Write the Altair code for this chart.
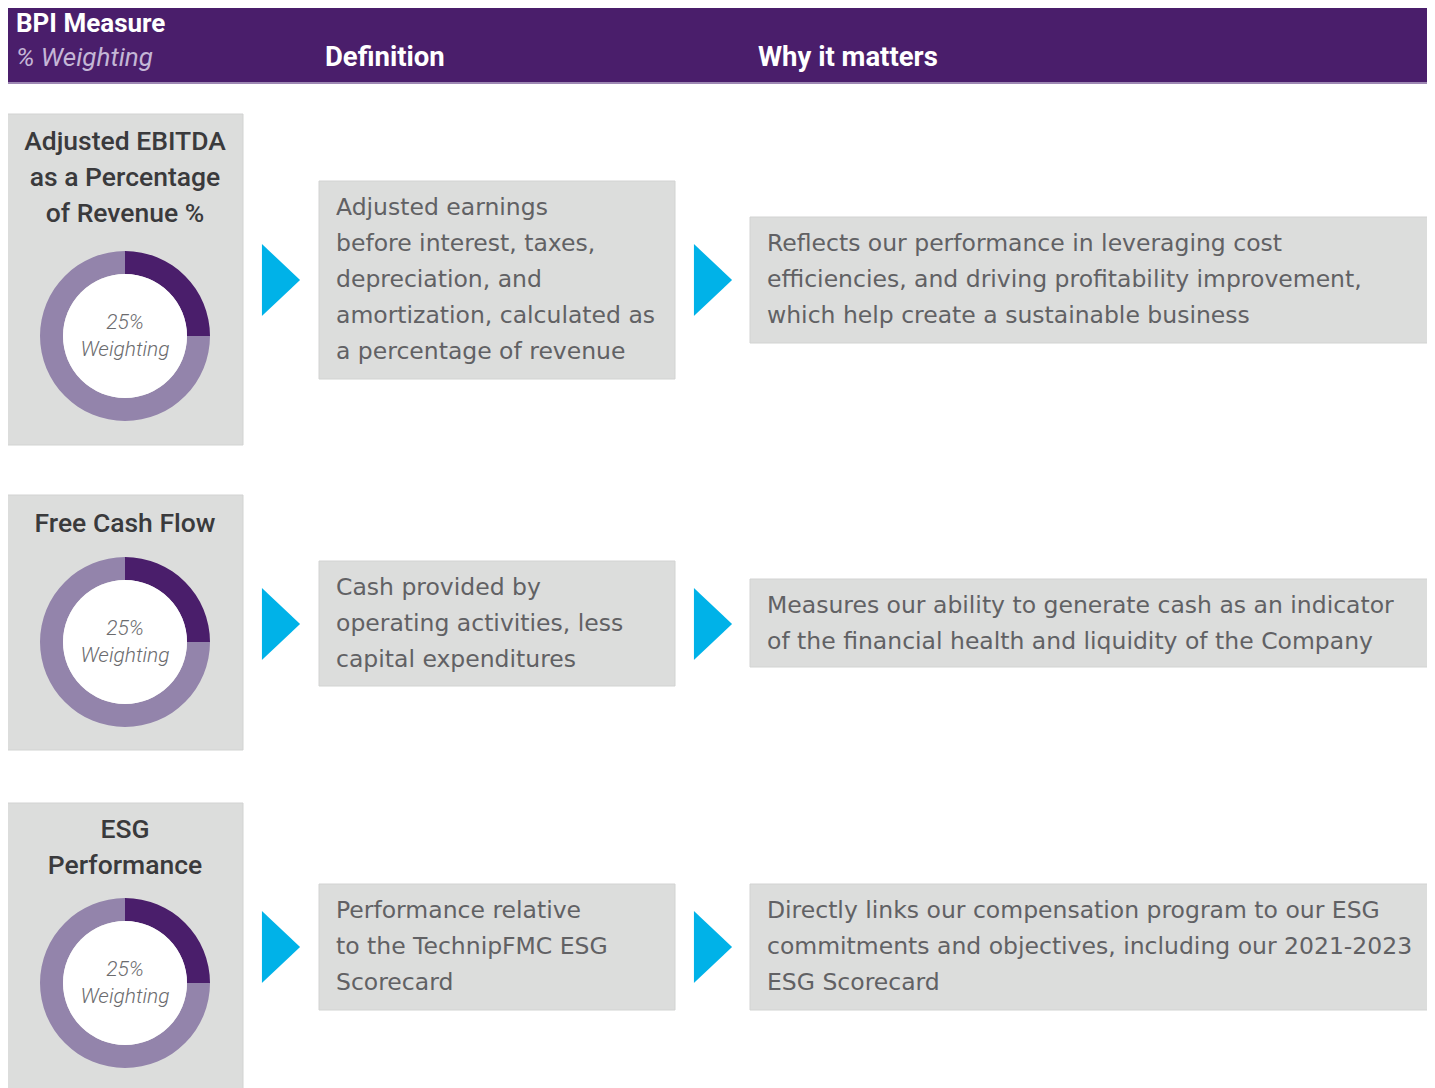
import math
import altair as alt
import pandas as pd

# ---------------- data ----------------
header_left_top = "BPI Measure"
header_left_sub = "% Weighting"
header_cols = ["Definition", "Why it matters"]

measure_titles = [
    ["Adjusted EBITDA", "as a Percentage", "of Revenue %"],
    ["Free Cash Flow"],
    ["ESG", "Performance"],
]
weights = [25, 25, 25]
weight_label = "Weighting"
definitions = [
    ["Adjusted earnings", "before interest, taxes,", "depreciation, and",
     "amortization, calculated as", "a percentage of revenue"],
    ["Cash provided by", "operating activities, less", "capital expenditures"],
    ["Performance relative", "to the TechnipFMC ESG", "Scorecard"],
]
why_matters = [
    ["Reflects our performance in leveraging cost",
     "efficiencies, and driving profitability improvement,",
     "which help create a sustainable business"],
    ["Measures our ability to generate cash as an indicator",
     "of the financial health and liquidity of the Company"],
    ["Directly links our compensation program to our ESG",
     "commitments and objectives, including our 2021-2023",
     "ESG Scorecard"],
]

# ---------------- layout (pixel positions, styles) ----------------
FONT = "Roboto"
BODY_FONT = "DejaVu Sans"
PURPLE = "#4a1e6b"
LIGHT_PURPLE = "#9384ab"
CYAN = "#00b2e8"
BOX = "#dcdddc"
LINE_H = 36

left_box = [(114, 445), (495, 750), (803, 1100)]
title_y0 = [142, 524, 830]
donut_c = [336, 642, 983]
def_box = [(181, 379), (561, 686), (884, 1010)]
why_box = [(217, 343), (579, 667), (884, 1010)]
arrow_y = [280, 624, 947]
DONUT_X = 125
DEF_X = (319, 675)
WHY_X = (750, 1430)
LEFT_X = (6, 243)

W, H = 1419, 1080
xs = alt.Scale(domain=[8, 8 + W], range=[0, W], nice=False, zero=False)
ys = alt.Scale(domain=[8, 8 + H], range=[0, H], nice=False, zero=False)


def X(f):
    return alt.X(f, type="quantitative", scale=xs, axis=None)


def Y(f):
    return alt.Y(f, type="quantitative", scale=ys, axis=None)


# rectangles
rects = [dict(x=6, x2=1430, y=6, y2=83, c=PURPLE)]
for i in range(3):
    rects.append(dict(x=LEFT_X[0], x2=LEFT_X[1], y=left_box[i][0], y2=left_box[i][1], c=BOX))
    rects.append(dict(x=DEF_X[0], x2=DEF_X[1], y=def_box[i][0], y2=def_box[i][1], c=BOX))
    rects.append(dict(x=WHY_X[0], x2=WHY_X[1], y=why_box[i][0], y2=why_box[i][1], c=BOX))
rect_df = pd.DataFrame(rects)
rect_layer = alt.Chart(rect_df).mark_rect(stroke="#d2d3d2", strokeWidth=1).encode(
    x=X("x"), x2="x2", y=Y("y"), y2="y2",
    fill=alt.Fill("c:N", scale=None),
)

# header bottom line
hdr_line = alt.Chart(pd.DataFrame([dict(x=6, x2=1430, y=83)])).mark_rule(
    color="#9d88b3", strokeWidth=2).encode(x=X("x"), x2="x2", y=Y("y"))

# arrows
arrow_rows = []
for i in range(3):
    arrow_rows.append(dict(x=281, y=arrow_y[i]))
    arrow_rows.append(dict(x=713, y=arrow_y[i]))
arrow_layer = alt.Chart(pd.DataFrame(arrow_rows)).mark_point(
    shape="M -0.53 -1 L 0.53 0 L -0.53 1 Z", size=72 * 72, filled=True,
    fill=CYAN, opacity=1, strokeWidth=0,
).encode(x=X("x"), y=Y("y"))

# donuts
arc_rows = []
for i, w in enumerate(weights):
    t = w / 100 * 2 * math.pi
    arc_rows.append(dict(cx=DONUT_X, cy=donut_c[i], t0=0.0, t1=t, c=PURPLE))
    arc_rows.append(dict(cx=DONUT_X, cy=donut_c[i], t0=t, t1=2 * math.pi, c=LIGHT_PURPLE))
arc_df = pd.DataFrame(arc_rows)
ring = alt.Chart(arc_df).mark_arc(innerRadius=62, outerRadius=85).encode(
    x=X("cx"), y=Y("cy"),
    theta=alt.Theta("t0:Q", scale=None), theta2="t1",
    fill=alt.Fill("c:N", scale=None),
)
inner_df = pd.DataFrame([dict(cx=DONUT_X, cy=donut_c[i], t0=0.0, t1=2 * math.pi) for i in range(3)])
inner = alt.Chart(inner_df).mark_arc(innerRadius=0, outerRadius=62, fill="white").encode(
    x=X("cx"), y=Y("cy"),
    theta=alt.Theta("t0:Q", scale=None), theta2="t1",
)


# texts
def text_layer(rows, font=FONT, baseline="middle", **kw):
    return alt.Chart(pd.DataFrame(rows)).mark_text(font=font, baseline=baseline, **kw).encode(
        x=X("x"), y=Y("y"), text="t:N")


hdr_top = text_layer(
    [dict(x=16, y=32, t=header_left_top)],
    baseline="alphabetic", align="left", fontSize=26, fontWeight="bold", color="white")
hdr_cols = text_layer(
    [dict(x=325, y=66, t=header_cols[0]), dict(x=758, y=66, t=header_cols[1])],
    baseline="alphabetic", align="left", fontSize=27.5, fontWeight="bold", color="white")
hdr_ital = text_layer([dict(x=16, y=66, t=header_left_sub)], baseline="alphabetic",
                      align="left", fontSize=26, fontStyle="italic", color="#c4b6d6")

title_rows = []
for i, lines in enumerate(measure_titles):
    for j, ln in enumerate(lines):
        title_rows.append(dict(x=125, y=title_y0[i] + j * LINE_H, t=ln))
titles = text_layer(title_rows, align="center", fontSize=26.5, fontWeight=500, color="#3a3a3c")

dn_rows = []
for i, w in enumerate(weights):
    dn_rows.append(dict(x=125, y=donut_c[i] - 13, t=f"{w}%"))
    dn_rows.append(dict(x=125, y=donut_c[i] + 14, t=weight_label))
dn_text = text_layer(dn_rows, align="center", fontSize=21, fontStyle="italic",
                     fontWeight=300, color="#6b6b6e")

body_rows = []
for i in range(3):
    for j, ln in enumerate(definitions[i]):
        body_rows.append(dict(x=336, y=def_box[i][0] + 27 + j * LINE_H, t=ln))
    for j, ln in enumerate(why_matters[i]):
        body_rows.append(dict(x=767, y=why_box[i][0] + 27 + j * LINE_H, t=ln))
body = text_layer(body_rows, font=BODY_FONT, align="left", fontSize=23.5, color="#616164")

chart = alt.layer(
    rect_layer, hdr_line, arrow_layer, ring, inner, hdr_top, hdr_cols, hdr_ital,
    titles, dn_text, body
).properties(
    width=W, height=H, padding=0, autosize=alt.AutoSizeParams(type="none"),
    background="white",
).configure_view(stroke=None)

chart.save("out.html", embed_options={"renderer": "svg", "actions": False})
